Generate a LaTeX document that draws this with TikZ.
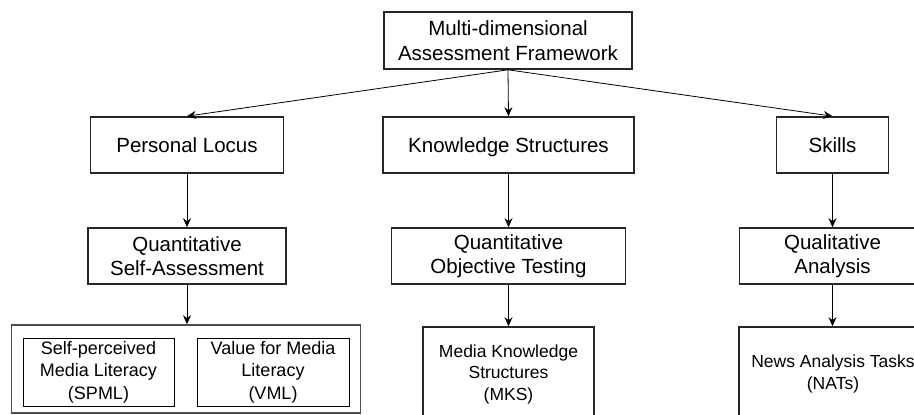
\documentclass[tikz,border=0pt]{standalone}
\usepackage{fontspec}
\setmainfont{Liberation Sans}
\usetikzlibrary{positioning,arrows.meta}

\tikzset{
  frame/.style={rectangle,draw=black!85,line width=1.6pt,align=center,inner sep=0pt,
    minimum height=56pt,font=\fontsize{20.5}{24.5}\selectfont},
  oneline/.style={text height=18.5pt,text depth=4pt},
  leaf/.style={rectangle,draw=black,line width=0.9pt,align=center,inner sep=0pt,
    minimum height=68pt,font=\fontsize{18}{22.5}\selectfont},
  measure/.style={rectangle,draw=black!85,line width=1.6pt,align=center,inner sep=0pt,
    minimum height=94pt,font=\fontsize{17.5}{21.5}\selectfont},
  link/.style={-{Stealth[length=9pt,width=8pt]},line width=0.8pt}
}

\begin{document}
\begin{tikzpicture}[x=1pt,y=-1pt]
\useasboundingbox (0,0) rectangle (914,415);

% framework
\node[frame,minimum width=248pt,minimum height=57pt] (madf) at (508,40.5) {Multi-dimensional\\Assessment Framework};

% dimensions
\node[frame,oneline,minimum width=193pt] (locus) at (187,145) {Personal Locus};
\node[frame,oneline,minimum width=251pt] (know) at (508.5,145) {Knowledge Structures};
\node[frame,oneline,minimum width=112pt] (skill) at (832.5,145) {Skills};

% methods
\node[frame,minimum width=198pt] (qsa) at (187,256) {Quantitative\\Self-Assessment};
\node[frame,minimum width=234pt] (qot) at (508.5,256) {Quantitative\\Objective Testing};
\node[frame,minimum width=186pt] (qual) at (832.5,256) {Qualitative\\Analysis};

% instruments
\node[rectangle,draw=black!70,line width=1.5pt,minimum width=349pt,minimum height=88pt] (selfgrp) at (186,369) {};
\node[leaf,minimum width=151pt] (spml) at (98.5,372) {Self-perceived\\Media Literacy\\(SPML)};
\node[leaf,minimum width=152pt] (vml) at (273,372) {Value for Media\\Literacy\\(VML)};
\node[measure,minimum width=171pt] (mks) at (508.5,374) {Media Knowledge\\Structures\\(MKS)};
\node[measure,minimum width=188pt] (nats) at (833,374) {News Analysis Tasks\\(NATs)};

\draw[link] (madf.south) -- (locus.north);
\draw[link] (madf.south) -- (know.north);
\draw[link] (madf.south) -- (skill.north);

\draw[link] (locus) -- (qsa);
\draw[link] (know) -- (qot);
\draw[link] (skill) -- (qual);

\draw[link] (qsa) -- (qsa |- selfgrp.north);
\draw[link] (qot) -- (mks);
\draw[link] (qual.south) -- (qual.south |- nats.north);

\end{tikzpicture}
\end{document}
